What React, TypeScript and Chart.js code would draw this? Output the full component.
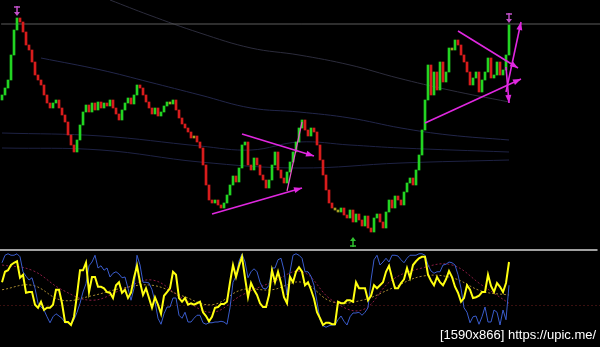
import React, { useEffect, useRef } from "react";
import { Chart, registerables } from "chart.js";

Chart.register(...registerables);

// ---- price panel (arbitrary price units) ----
const firstOpen = 145;
const closes = [
  150, 157, 165, 190, 215, 227, 223, 213, 200, 195,
  183, 170, 165, 160, 150, 142, 137, 142, 145, 137,
  130, 123, 110, 100, 93, 105, 120, 133, 140, 133,
  142, 135, 143, 137, 142, 139, 145, 137, 131, 125,
  135, 142, 147, 141, 150, 160, 157, 150, 143, 137,
  131, 137, 129, 133, 139, 143, 141, 145, 135, 127,
  121, 117, 113, 107, 109, 103, 97, 80, 60, 45,
  42, 45, 40, 37, 42, 50, 60, 69, 63, 77,
  100, 103, 80, 75, 87, 80, 70, 65, 57, 65,
  80, 93, 75, 67, 62, 73, 83, 93, 103, 117,
  125, 115, 109, 117, 113, 100, 85, 70, 55, 42,
  37, 35, 33, 37, 30, 27, 35, 23, 31, 25,
  19, 29, 17, 13, 27, 31, 23, 17, 33, 45,
  37, 49, 45, 40, 53, 62, 67, 60, 75, 90,
  115, 145, 180, 150, 173, 155, 183, 163, 173, 197,
  195, 205, 200, 190, 183, 173, 160, 167, 173, 153,
  165, 173, 187, 167, 170, 183, 170, 175, 190, 220,
];

// horizontal level on the price panel
const priceLevel = 221;

// faint envelope bands: bar index + price
const band1Idx = [36, 49, 66, 83, 99, 116, 132, 149, 169];
const band1Val = [245, 230, 212, 197, 190, 180, 167, 155, 143];
const band2Idx = [13, 33, 49, 66, 83, 99, 116, 133, 149, 169];
const band2Val = [187, 175, 163, 150, 137, 133, 127, 117, 110, 105];
const band3Idx = [0, 33, 66, 83, 99, 116, 133, 169];
const band3Val = [112, 109, 99, 95, 103, 100, 97, 93];
const band4Idx = [0, 33, 66, 99, 133, 169];
const band4Val = [97, 95, 83, 77, 82, 85];

// trend lines drawn on the chart
const trendX0 = [70, 80, 95, 152, 141, 168, 168];
const trendY0 = [31, 111, 54, 214, 122, 153, 178];
const trendX1 = [100, 104, 100, 172, 173, 173, 169];
const trendY1 = [57, 89, 123, 177, 166, 223, 142];
const trendArrow = [true, true, false, true, true, true, true];

// signal arrows
const downMarkIdx = [5, 169];
const downMarkVal = [234, 227];
const upMarkIdx = [117];
const upMarkVal = [3];

// ---- oscillator panel (0..100) ----
const stochMain = [
  61, 75, 77, 84, 87, 89, 67, 71, 47, 48,
  48, 31, 27, 35, 24, 27, 27, 31, 51, 51,
  33, 8, 8, 4, 15, 44, 77, 77, 87, 48,
  68, 68, 55, 55, 53, 48, 47, 40, 57, 61,
  47, 51, 40, 47, 67, 83, 61, 44, 53, 40,
  27, 41, 31, 19, 43, 48, 53, 75, 71, 40,
  35, 40, 31, 33, 31, 33, 35, 21, 16, 9,
  15, 27, 28, 32, 32, 35, 61, 84, 68, 83,
  95, 67, 41, 60, 51, 44, 33, 28, 28, 44,
  77, 61, 75, 60, 41, 33, 68, 61, 75, 81,
  75, 57, 61, 51, 39, 21, 13, 4, 7, 7,
  5, 5, 35, 33, 33, 37, 37, 35, 61, 53,
  53, 53, 37, 43, 57, 53, 57, 61, 75, 83,
  67, 53, 53, 60, 65, 80, 67, 84, 89, 93,
  95, 95, 71, 63, 57, 68, 61, 57, 65, 76,
  68, 55, 47, 35, 40, 57, 51, 40, 41, 43,
  48, 48, 71, 56, 48, 60, 55, 48, 60, 88,
];
const stochFast = [
  87, 97, 99, 97, 97, 99, 95, 75, 69, 64,
  67, 53, 33, 28, 24, 15, 7, 15, 19, 16,
  13, 7, 7, 5, 11, 21, 33, 48, 59, 83,
  88, 97, 80, 83, 77, 80, 68, 73, 75, 72,
  67, 68, 53, 37, 53, 97, 84, 61, 61, 60,
  51, 35, 13, 5, 19, 28, 28, 40, 40, 17,
  13, 21, 8, 8, 13, 17, 17, 7, 5, 7,
  7, 8, 8, 9, 8, 5, 27, 61, 69, 89,
  99, 88, 67, 75, 79, 75, 61, 53, 52, 57,
  80, 80, 91, 93, 77, 44, 75, 97, 99, 97,
  93, 75, 75, 69, 57, 35, 11, 3, 1, 3,
  4, 4, 11, 16, 9, 4, 15, 20, 20, 21,
  17, 21, 27, 64, 91, 97, 84, 88, 93, 88,
  97, 97, 96, 91, 87, 93, 97, 97, 97, 99,
  99, 97, 84, 76, 73, 75, 75, 84, 85, 88,
  87, 84, 71, 53, 27, 21, 7, 15, 16, 5,
  15, 28, 8, 8, 24, 21, 4, 24, 11, 57,
];
const sigIdx = [0, 10, 20, 30, 40, 50, 60, 70, 80, 90, 100, 110, 120, 130, 140, 150, 160, 169];
const sigOrange = [51, 57, 37, 43, 53, 57, 43, 31, 51, 51, 61, 35, 37, 53, 69, 67, 49, 44];
const sigRed = [84, 77, 51, 37, 51, 64, 40, 21, 44, 61, 75, 37, 24, 64, 80, 84, 57, 33];
const oscLevel = 30;
const panelTop = 104;

const pts = (idx: number[], val: number[]) => idx.map((x, i) => ({ x, y: val[i] }));
const seq = (val: number[]) => val.map((y, x) => ({ x, y }));

const arrowPlugin = {
  id: "arrowHeads",
  afterDatasetsDraw(chart: any) {
    const ctx = chart.ctx;
    chart.data.datasets.forEach((ds: any, di: number) => {
      if (!ds.arrowHead) return;
      const d = chart.getDatasetMeta(di).data;
      if (d.length < 2) return;
      const a = d[d.length - 2];
      const b = d[d.length - 1];
      const ang = Math.atan2(b.y - a.y, b.x - a.x);
      const L = 8;
      const W = 3;
      ctx.save();
      ctx.fillStyle = ds.borderColor;
      ctx.beginPath();
      ctx.moveTo(b.x, b.y);
      ctx.lineTo(b.x - L * Math.cos(ang) + W * Math.sin(ang), b.y - L * Math.sin(ang) - W * Math.cos(ang));
      ctx.lineTo(b.x - L * Math.cos(ang) - W * Math.sin(ang), b.y - L * Math.sin(ang) + W * Math.cos(ang));
      ctx.closePath();
      ctx.fill();
      ctx.restore();
    });
  },
};

const markerPlugin = {
  id: "signalMarks",
  afterDatasetsDraw(chart: any) {
    const ctx = chart.ctx;
    const xs = chart.scales.x;
    const ys = chart.scales.y;
    const draw = (px: number, py: number, dir: number, color: string) => {
      ctx.save();
      ctx.strokeStyle = color;
      ctx.fillStyle = color;
      ctx.lineWidth = 1.5;
      ctx.beginPath();
      ctx.moveTo(px, py - 5 * dir);
      ctx.lineTo(px, py + 2 * dir);
      ctx.stroke();
      ctx.beginPath();
      ctx.moveTo(px - 3, py - 4 * dir);
      ctx.lineTo(px + 3, py - 4 * dir);
      ctx.stroke();
      ctx.beginPath();
      ctx.moveTo(px, py + 5 * dir);
      ctx.lineTo(px - 3, py + 1 * dir);
      ctx.lineTo(px + 3, py + 1 * dir);
      ctx.closePath();
      ctx.fill();
      ctx.restore();
    };
    downMarkIdx.forEach((ix, i) => draw(xs.getPixelForValue(ix), ys.getPixelForValue(downMarkVal[i]), 1, "#c050c8"));
    upMarkIdx.forEach((ix, i) => draw(xs.getPixelForValue(ix), ys.getPixelForValue(upMarkVal[i]), -1, "#30c030"));
  },
};

export default function App() {
  const ref = useRef<HTMLCanvasElement | null>(null);

  useEffect(() => {
    if (!ref.current) return;
    const opens = closes.map((c, i) => (i === 0 ? firstOpen : closes[i - 1]));
    const colors = closes.map((c, i) => {
      const d = c - opens[i];
      if (Math.abs(d) <= 2) return "#a8a020";
      return d > 0 ? "#22d422" : "#d81c1c";
    });

    const trendSets = trendX0.map((x0, i) => ({
      type: "line" as const,
      data: [
        { x: x0, y: trendY0[i] },
        { x: trendX1[i], y: trendY1[i] },
      ],
      borderColor: trendArrow[i] ? "#e028e0" : "#e858c8",
      borderWidth: trendArrow[i] ? 1.6 : 1.2,
      pointRadius: 0,
      yAxisID: "y",
      order: 0,
      arrowHead: trendArrow[i],
    }));

    const bandStyle = (c: string) => ({
      type: "line" as const,
      borderColor: c,
      borderWidth: 1,
      pointRadius: 0,
      tension: 0.4,
      yAxisID: "y",
      order: 6,
    });

    const chart = new Chart(ref.current, {
      type: "bar",
      data: {
        datasets: [
          ...trendSets,
          {
            type: "line",
            data: seq(stochMain),
            borderColor: "#ffff10",
            borderWidth: 2,
            pointRadius: 0,
            yAxisID: "y2",
            order: 1,
          },
          {
            type: "line",
            data: seq(stochFast),
            borderColor: "#3a5ccc",
            borderWidth: 1,
            pointRadius: 0,
            yAxisID: "y2",
            order: 2,
          },
          {
            type: "line",
            data: pts(sigIdx, sigRed),
            borderColor: "#8c1c44",
            borderWidth: 1,
            borderDash: [2, 2],
            pointRadius: 0,
            tension: 0.4,
            yAxisID: "y2",
            order: 3,
          },
          {
            type: "line",
            data: pts(sigIdx, sigOrange),
            borderColor: "#a88a30",
            borderWidth: 1,
            borderDash: [2, 2],
            pointRadius: 0,
            tension: 0.4,
            yAxisID: "y2",
            order: 3,
          },
          {
            type: "line",
            data: [
              { x: -1, y: oscLevel },
              { x: 200, y: oscLevel },
            ],
            borderColor: "#3a1010",
            borderWidth: 1,
            borderDash: [2, 2],
            pointRadius: 0,
            yAxisID: "y2",
            order: 7,
          },
          {
            type: "line",
            data: [
              { x: -1, y: panelTop },
              { x: 198.5, y: panelTop },
            ],
            borderColor: "#a0a0a0",
            borderWidth: 2,
            pointRadius: 0,
            yAxisID: "y2",
            order: 5,
          },
          {
            type: "bar",
            data: closes.map((c, i) => ({ x: i, y: [opens[i], c] })),
            backgroundColor: colors,
            barThickness: 2,
            minBarLength: 2,
            yAxisID: "y",
            order: 4,
          },
          {
            type: "line",
            data: [
              { x: -0.3, y: priceLevel },
              { x: 200, y: priceLevel },
            ],
            borderColor: "#5c5c5c",
            borderWidth: 1,
            pointRadius: 0,
            yAxisID: "y",
            order: 5,
          },
          { ...bandStyle("#2c2c3c"), data: pts(band1Idx, band1Val) },
          { ...bandStyle("#22264a"), data: pts(band2Idx, band2Val) },
          { ...bandStyle("#1e2244"), data: pts(band3Idx, band3Val) },
          { ...bandStyle("#1e2244"), data: pts(band4Idx, band4Val) },
        ] as any,
      },
      options: {
        animation: false,
        responsive: false,
        devicePixelRatio: 1,
        layout: { padding: 0 },
        plugins: { legend: { display: false }, tooltip: { enabled: false } },
        scales: {
          x: { type: "linear", min: -0.67, max: 199.33, display: false, offset: false },
          y: { type: "linear", min: -102, max: 245, display: false },
          y2: { type: "linear", min: -25.33, max: 437.33, display: false },
        },
      },
      plugins: [arrowPlugin, markerPlugin],
    });
    return () => chart.destroy();
  }, []);

  return (
    <div
      style={{
        position: "fixed",
        left: 0,
        top: 0,
        width: 600,
        height: 347,
        background: "#000",
        overflow: "hidden",
      }}
    >
      <canvas ref={ref} width={600} height={347} style={{ display: "block" }} />
      <div
        style={{
          position: "absolute",
          left: 440,
          top: 327,
          color: "#fff",
          font: "13px 'Liberation Sans', Arial, sans-serif",
          lineHeight: "15px",
          whiteSpace: "nowrap",
        }}
      >
        [1590x866] https://upic.me/
      </div>
    </div>
  );
}
